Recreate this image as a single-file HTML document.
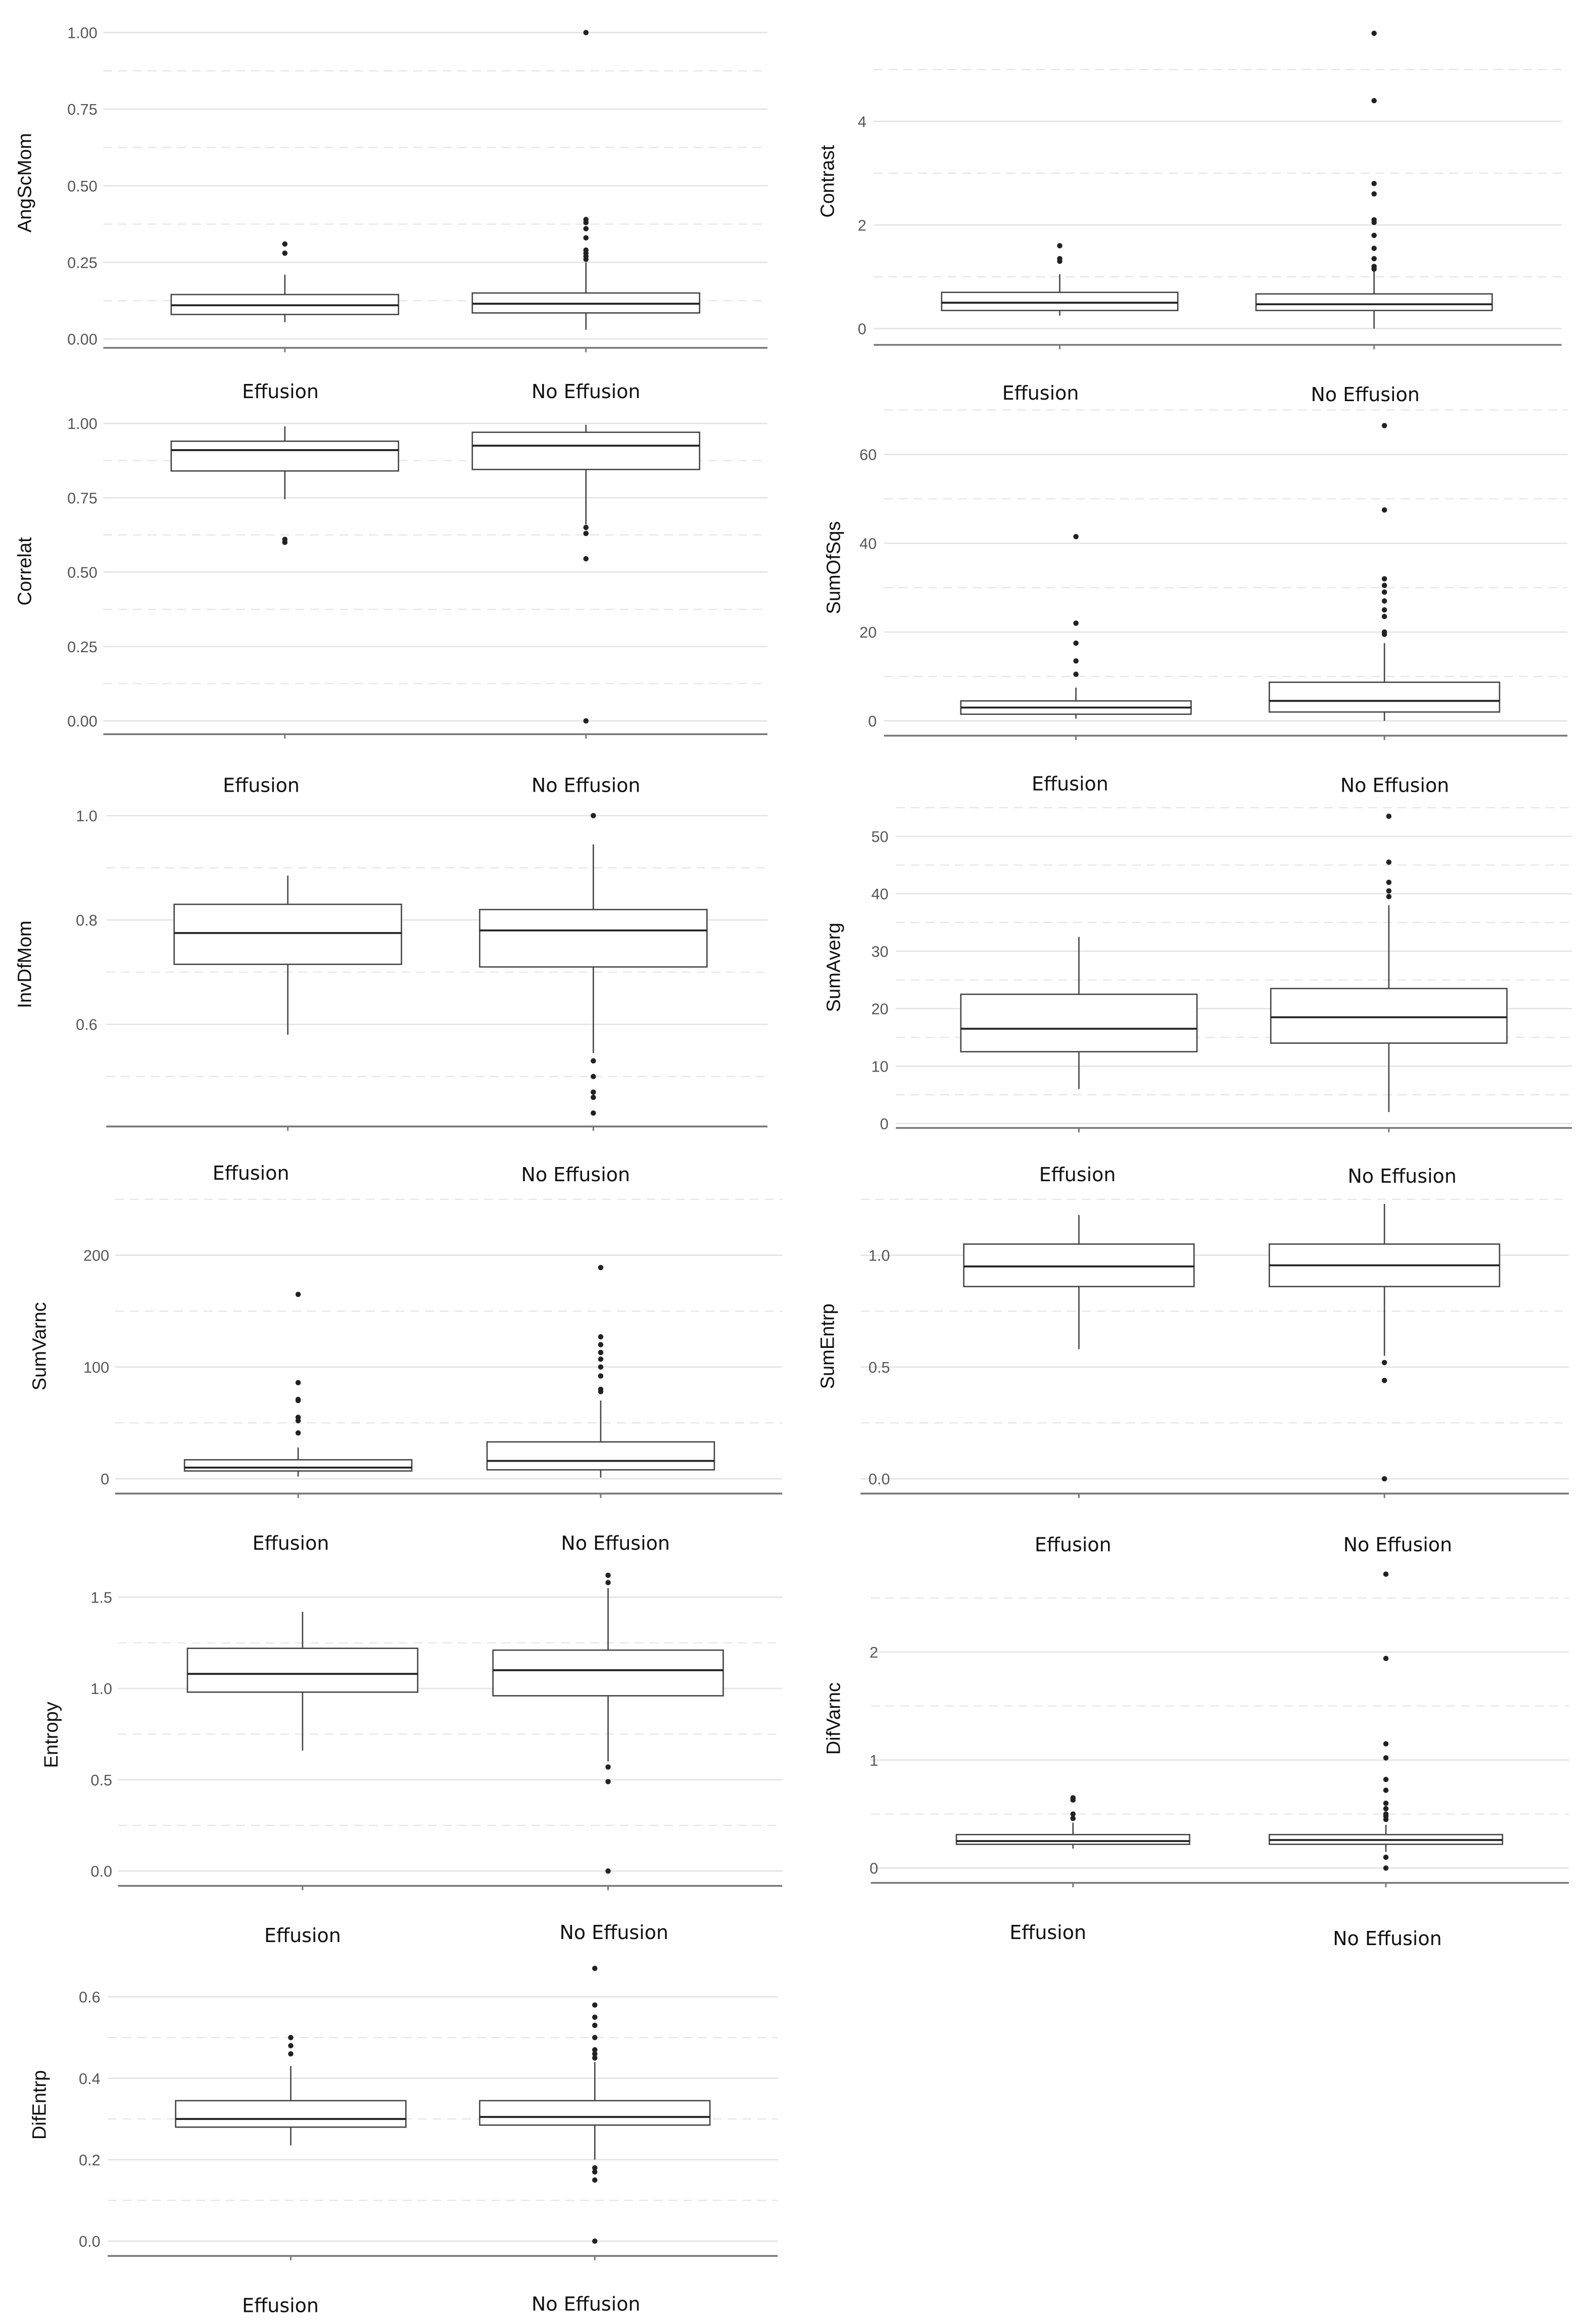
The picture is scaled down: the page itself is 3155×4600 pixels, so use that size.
<!DOCTYPE html>
<html><head><meta charset="utf-8">
<style>
html,body{margin:0;padding:0;background:#fff;}
svg{display:block;}
</style></head>
<body>
<svg id="chart" xmlns="http://www.w3.org/2000/svg" width="3155" height="4600" viewBox="0 0 1080 1570" preserveAspectRatio="none"></svg>
<script>
const groups = ['Effusion','No Effusion'];
const panelNames = ['AngScMom','Contrast','Correlat','SumOfSqs','InvDfMom','SumAverg','SumVarnc','SumEntrp','Entropy','DifVarnc','DifEntrp'];
// stats: [whiskerLow, q1, median, q3, whiskerHigh] per group
const angscmomStats = [[0.055,0.08,0.11,0.145,0.21],[0.03,0.085,0.115,0.15,0.25]];
const angscmomOut = [[0.28,0.31],[0.26,0.27,0.28,0.29,0.33,0.36,0.38,0.39,1.0]];
const angscmomTicks = [0,0.25,0.5,0.75,1.0];
const angscmomTickLabels = ['0.00','0.25','0.50','0.75','1.00'];
const angscmomMinor = [0.125,0.375,0.625,0.875];

const contrastStats = [[0.25,0.35,0.5,0.7,1.05],[0,0.35,0.47,0.67,1.1]];
const contrastOut = [[1.3,1.35,1.6],[1.15,1.2,1.35,1.55,1.8,2.05,2.1,2.6,2.8,4.4,5.7]];
const contrastTicks = [0,2,4];
const contrastTickLabels = ['0','2','4'];
const contrastMinor = [1,3,5];

const correlatStats = [[0.745,0.84,0.91,0.94,0.99],[0.66,0.845,0.925,0.97,0.995]];
const correlatOut = [[0.60,0.61],[0.63,0.65,0.545,0]];
const correlatTicks = [0,0.25,0.5,0.75,1.0];
const correlatTickLabels = ['0.00','0.25','0.50','0.75','1.00'];
const correlatMinor = [0.125,0.375,0.625,0.875];

const sumofsqsStats = [[0.5,1.5,3,4.5,7.5],[0,2,4.5,8.7,17.5]];
const sumofsqsOut = [[10.5,13.5,17.5,22,41.5],[19.5,20,23.5,25,27,29,30.5,32,47.5,66.5]];
const sumofsqsTicks = [0,20,40,60];
const sumofsqsTickLabels = ['0','20','40','60'];
const sumofsqsMinor = [10,30,50,70];

const invdfmomStats = [[0.58,0.715,0.775,0.83,0.885],[0.545,0.71,0.78,0.82,0.945]];
const invdfmomOut = [[],[0.53,0.5,0.47,0.46,0.43,1.0]];
const invdfmomTicks = [0.6,0.8,1.0];
const invdfmomTickLabels = ['0.6','0.8','1.0'];
const invdfmomMinor = [0.5,0.7,0.9];

const sumavergStats = [[6,12.5,16.5,22.5,32.5],[2,14,18.5,23.5,38]];
const sumavergOut = [[],[39.5,40.5,42,45.5,53.5]];
const sumavergTicks = [0,10,20,30,40,50];
const sumavergTickLabels = ['0','10','20','30','40','50'];
const sumavergMinor = [5,15,25,35,45,55];

const sumvarncStats = [[2,7,10,17,28],[1,8,16,33,70]];
const sumvarncOut = [[41,52,55,70,71,86,165],[78,80,92,100,107,113,120,127,189]];
const sumvarncTicks = [0,100,200];
const sumvarncTickLabels = ['0','100','200'];
const sumvarncMinor = [50,150,250];

const sumentrpStats = [[0.58,0.86,0.95,1.05,1.18],[0.55,0.86,0.955,1.05,1.23]];
const sumentrpOut = [[],[0.52,0.44,0]];
const sumentrpTicks = [0,0.5,1.0];
const sumentrpTickLabels = ['0.0','0.5','1.0'];
const sumentrpMinor = [0.25,0.75,1.25];

const entropyStats = [[0.66,0.98,1.08,1.22,1.42],[0.6,0.96,1.1,1.21,1.55]];
const entropyOut = [[],[0.57,0.49,0,1.58,1.62]];
const entropyTicks = [0,0.5,1.0,1.5];
const entropyTickLabels = ['0.0','0.5','1.0','1.5'];
const entropyMinor = [0.25,0.75,1.25];

const difvarncStats = [[0.18,0.22,0.25,0.31,0.42],[0.15,0.22,0.26,0.31,0.4]];
const difvarncOut = [[0.46,0.5,0.63,0.65],[0.45,0.48,0.5,0.55,0.6,0.72,0.82,1.02,1.15,1.94,2.72,0.1,0]];
const difvarncTicks = [0,1,2];
const difvarncTickLabels = ['0','1','2'];
const difvarncMinor = [0.5,1.5,2.5];

const difentrpStats = [[0.235,0.28,0.3,0.345,0.43],[0.2,0.285,0.305,0.345,0.44]];
const difentrpOut = [[0.46,0.48,0.5],[0.45,0.46,0.47,0.5,0.53,0.55,0.58,0.67,0.18,0.17,0.15,0]];
const difentrpTicks = [0,0.2,0.4,0.6];
const difentrpTickLabels = ['0.0','0.2','0.4','0.6'];
const difentrpMinor = [0.1,0.3,0.5];

const allStats=[angscmomStats,contrastStats,correlatStats,sumofsqsStats,invdfmomStats,sumavergStats,sumvarncStats,sumentrpStats,entropyStats,difvarncStats,difentrpStats];
const allOut=[angscmomOut,contrastOut,correlatOut,sumofsqsOut,invdfmomOut,sumavergOut,sumvarncOut,sumentrpOut,entropyOut,difvarncOut,difentrpOut];
const allTicks=[angscmomTicks,contrastTicks,correlatTicks,sumofsqsTicks,invdfmomTicks,sumavergTicks,sumvarncTicks,sumentrpTicks,entropyTicks,difvarncTicks,difentrpTicks];
const allTickLabels=[angscmomTickLabels,contrastTickLabels,correlatTickLabels,sumofsqsTickLabels,invdfmomTickLabels,sumavergTickLabels,sumvarncTickLabels,sumentrpTickLabels,entropyTickLabels,difvarncTickLabels,difentrpTickLabels];
const allMinor=[angscmomMinor,contrastMinor,correlatMinor,sumofsqsMinor,invdfmomMinor,sumavergMinor,sumvarncMinor,sumentrpMinor,entropyMinor,difvarncMinor,difentrpMinor];

// layout (pixel geometry, in 1080x1570 view units)
const layout = [
 {vA:0,pA:229,vB:1,pB:22,top:12,axisY:235,x0:70,x1:520,tx:66,ttx:12,c:[193,397],hw:77,lx:[190,397],ly:[264,264]},
 {vA:0,pA:222,vB:4,pB:82,top:12,axisY:233,x0:592,x1:1058,tx:587,ttx:556,c:[718,931],hw:80,lx:[705,925],ly:[265,266]},
 {vA:0,pA:487,vB:1,pB:286,top:276,axisY:496,x0:70,x1:520,tx:66,ttx:12,c:[193,397],hw:77,lx:[177,397],ly:[530,530]},
 {vA:0,pA:487,vB:60,pB:307,top:270,axisY:497,x0:599,x1:1062,tx:594,ttx:560,c:[729,938],hw:78,lx:[725,945],ly:[529,530]},
 {vA:0.6,pA:692,vB:1.0,pB:551,top:542,axisY:761,x0:72,x1:520,tx:66,ttx:12,c:[195,402],hw:77,lx:[170,390],ly:[792,793]},
 {vA:0,pA:759,vB:50,pB:565,top:545,axisY:762,x0:607,x1:1065,tx:602,ttx:560,c:[731,941],hw:80,lx:[730,950],ly:[793,794]},
 {vA:0,pA:999,vB:200,pB:848,top:810,axisY:1009,x0:78,x1:530,tx:74,ttx:22,c:[202,407],hw:77,lx:[197,417],ly:[1042,1042]},
 {vA:0,pA:999,vB:1,pB:848,top:810,axisY:1009,x0:583,x1:1063,tx:603,ttx:556,c:[731,938],hw:78,lx:[727,947],ly:[1043,1043]},
 {vA:0,pA:1264,vB:1.5,pB:1079,top:1070,axisY:1274,x0:80,x1:530,tx:76,ttx:30,c:[205,412],hw:78,lx:[205,416],ly:[1307,1305]},
 {vA:0,pA:1262,vB:2,pB:1116,top:1050,axisY:1272,x0:590,x1:1063,tx:595,ttx:560,c:[727,939],hw:79,lx:[710,940],ly:[1305,1309]},
 {vA:0,pA:1514,vB:0.6,pB:1349,top:1320,axisY:1524,x0:73,x1:527,tx:68,ttx:22,c:[197,403],hw:78,lx:[190,397],ly:[1557,1556]}
];

const svg=document.getElementById('chart');
const NS='http://www.w3.org/2000/svg';
function mk(tag,attrs,parent){const e=document.createElementNS(NS,tag);for(const k in attrs)e.setAttribute(k,attrs[k]);parent.appendChild(e);return e;}
const bg=mk('rect',{x:0,y:0,width:1080,height:1570,fill:'#fff'},svg);



panelNames.forEach((name,i)=>{
  const L=layout[i];
  const ppu=(L.pA-L.pB)/(L.vB-L.vA);
  const yScale=v=>L.pA-(v-L.vA)*ppu;
  const g=mk('g',{},svg);
  
  
  // minor grid
  allMinor[i].forEach(v=>{const y=yScale(v); if(y<L.top-2||y>L.axisY) return;
    const ln=mk('line',{x1:L.x0,x2:L.x1,y1:y,y2:y,stroke:'#e6e6e6','stroke-width':0.8,'stroke-dasharray':'6,4'},g);
    
    });
  // major grid + tick labels
  allTicks[i].forEach((v,k)=>{const y=yScale(v);
    const ln=mk('line',{x1:L.x0,x2:L.x1,y1:y,y2:y,stroke:'#e3e3e3','stroke-width':0.9},g);
    
    
    const t=mk('text',{x:L.tx,y:y+3.8,'text-anchor':'end','font-family':'Liberation Sans, sans-serif','font-size':10.5,fill:'#555'},g);
    t.textContent=allTickLabels[i][k];
    
    });
  // axis line
  const ax=mk('line',{x1:L.x0,x2:L.x1,y1:L.axisY,y2:L.axisY,stroke:'#777','stroke-width':1.2},g);
  
  
  // y title
  const midY=(L.top+L.axisY)/2;
  const tt=mk('text',{x:L.ttx,y:midY,transform:'rotate(-90 '+L.ttx+' '+midY+')','text-anchor':'middle','font-family':'Liberation Sans Narrow, Liberation Sans, sans-serif','font-size':13,fill:'#111','dominant-baseline':'hanging'},g);
  tt.textContent=name;
  
  
  // boxes
  groups.forEach((grp,j)=>{
    const s=allStats[i][j]; const cx=L.c[j]; const hw=L.hw;
    const bx=mk('g',{},g);
    
    
    const tk=mk('line',{x1:cx,x2:cx,y1:L.axisY,y2:L.axisY+3,stroke:'#777','stroke-width':1},bx);
    
    
    const w1=mk('line',{x1:cx,x2:cx,y1:yScale(s[0]),y2:yScale(s[1]),stroke:'#444','stroke-width':0.9},bx);
    
    
    const w2=mk('line',{x1:cx,x2:cx,y1:yScale(s[3]),y2:yScale(s[4]),stroke:'#444','stroke-width':0.9},bx);
    
    
    const r=mk('rect',{x:cx-hw,y:yScale(s[3]),width:2*hw,height:yScale(s[1])-yScale(s[3]),fill:'#fff',stroke:'#444','stroke-width':0.9},bx);
    
    
    const m=mk('line',{x1:cx-hw,x2:cx+hw,y1:yScale(s[2]),y2:yScale(s[2]),stroke:'#222','stroke-width':1.3},bx);
    
    
    allOut[i][j].forEach(v=>{
      const c=mk('circle',{cx:cx,cy:yScale(v),r:1.8,fill:'#222'},bx);
      
      });
    const lb=mk('text',{x:L.lx[j],y:L.ly[j]+5,'text-anchor':'middle','font-family':'DejaVu Sans, Liberation Sans, sans-serif','font-size':13,fill:'#111'},g);
    lb.textContent=grp;
    
    
  });
});
</script>
</body></html>
